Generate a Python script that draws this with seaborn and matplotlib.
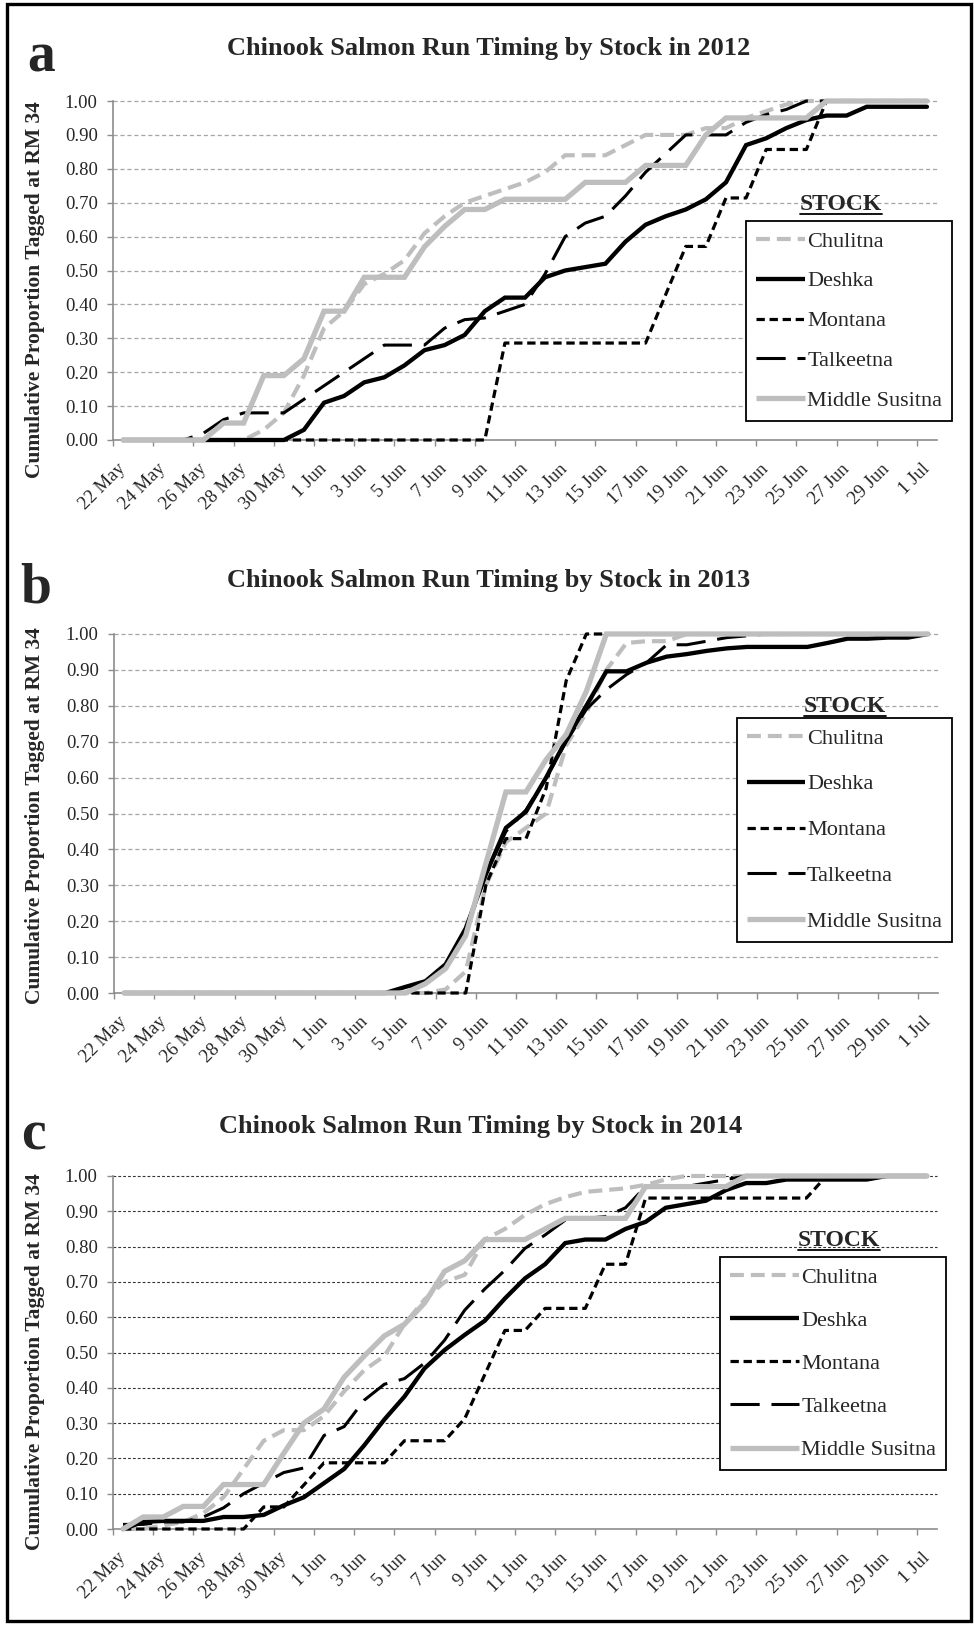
import matplotlib
matplotlib.use("Agg")
import numpy as np
import pandas as pd
import seaborn as sns
import matplotlib.pyplot as plt
from matplotlib.lines import Line2D
from matplotlib.patches import Rectangle
from matplotlib.transforms import Bbox, TransformedBbox

# ---------------- data ----------------
dates = pd.date_range("2012-05-22", "2012-07-01")
day_labels = [f"{d.day} {d.strftime('%b')}" for d in dates]
tick_labels = day_labels[::2]
stocks = ["Chulitna", "Deshka", "Montana", "Talkeetna", "Middle Susitna"]

chulitna_2012 = [0, 0, 0, 0, 0, 0, 0, 0.03, 0.08, 0.19, 0.33, 0.38, 0.46, 0.49, 0.53, 0.61, 0.66, 0.70, 0.72, 0.74,
                 0.76, 0.79, 0.84, 0.84, 0.84, 0.87, 0.90, 0.90, 0.90, 0.92, 0.92, 0.95, 0.97, 0.99, 1.0, 1.0, 1.0,
                 1.0, 1.0, 1.0, 1.0]
deshka_2012 = [0, 0, 0, 0, 0, 0, 0, 0, 0, 0.03, 0.11, 0.13, 0.17, 0.185, 0.22, 0.265, 0.28, 0.31, 0.38, 0.42,
               0.42, 0.48, 0.50, 0.51, 0.52, 0.585, 0.635, 0.66, 0.68, 0.71, 0.76, 0.87, 0.89, 0.92, 0.944, 0.957,
               0.957, 0.983, 0.983, 0.983, 0.983]
montana_2012 = [0, 0, 0, 0, 0, 0, 0, 0, 0, 0, 0, 0, 0, 0, 0, 0, 0, 0, 0, 0.286,
                0.286, 0.286, 0.286, 0.286, 0.286, 0.286, 0.286, 0.429, 0.571, 0.571, 0.714, 0.714, 0.857, 0.857,
                0.857, 1.0, 1.0, 1.0, 1.0, 1.0, 1.0]
talkeetna_2012 = [0, 0, 0, 0, 0.02, 0.06, 0.08, 0.08, 0.08, 0.12, 0.16, 0.20, 0.24, 0.28, 0.28, 0.28, 0.33, 0.355,
                  0.36, 0.38, 0.40, 0.49, 0.60, 0.64, 0.66, 0.72, 0.79, 0.845, 0.90, 0.90, 0.90, 0.937, 0.96, 0.975,
                  1.0, 1.0, 1.0, 1.0, 1.0, 1.0, 1.0]
middle_2012 = [0, 0, 0, 0, 0, 0.05, 0.05, 0.19, 0.19, 0.24, 0.38, 0.38, 0.48, 0.48, 0.48, 0.57, 0.63, 0.68, 0.68,
               0.71, 0.71, 0.71, 0.71, 0.76, 0.76, 0.76, 0.81, 0.81, 0.81, 0.90, 0.95, 0.95, 0.95, 0.95, 0.95, 1.0,
               1.0, 1.0, 1.0, 1.0, 1.0]

chulitna_2013 = [0, 0, 0, 0, 0, 0, 0, 0, 0, 0, 0, 0, 0, 0, 0, 0, 0.01, 0.06, 0.30, 0.42, 0.46, 0.50, 0.69, 0.78,
                 0.90, 0.975, 0.98, 0.98, 1.0, 1.0, 1.0, 1.0, 1.0, 1.0, 1.0, 1.0, 1.0, 1.0, 1.0, 1.0, 1.0]
deshka_2013 = [0, 0, 0, 0, 0, 0, 0, 0, 0, 0, 0, 0, 0, 0, 0.017, 0.033, 0.08, 0.18, 0.33, 0.46, 0.505, 0.60, 0.705,
               0.80, 0.896, 0.896, 0.92, 0.937, 0.944, 0.953, 0.96, 0.964, 0.964, 0.964, 0.964, 0.975, 0.987,
               0.987, 0.99, 0.99, 1.0]
montana_2013 = [0, 0, 0, 0, 0, 0, 0, 0, 0, 0, 0, 0, 0, 0, 0, 0, 0, 0, 0.30, 0.43, 0.43, 0.57, 0.87, 1.0, 1.0,
                1.0, 1.0, 1.0, 1.0, 1.0, 1.0, 1.0, 1.0, 1.0, 1.0, 1.0, 1.0, 1.0, 1.0, 1.0, 1.0]
talkeetna_2013 = [0, 0, 0, 0, 0, 0, 0, 0, 0, 0, 0, 0, 0, 0, 0.01, 0.03, 0.07, 0.17, 0.33, 0.45, 0.51, 0.60, 0.70,
                  0.79, 0.845, 0.887, 0.92, 0.97, 0.97, 0.98, 0.99, 0.995, 1.0, 1.0, 1.0, 1.0, 1.0, 1.0, 1.0, 1.0,
                  1.0]
middle_2013 = [0, 0, 0, 0, 0, 0, 0, 0, 0, 0, 0, 0, 0, 0, 0, 0.026, 0.068, 0.16, 0.36, 0.56, 0.56, 0.65, 0.72,
               0.84, 1.0, 1.0, 1.0, 1.0, 1.0, 1.0, 1.0, 1.0, 1.0, 1.0, 1.0, 1.0, 1.0, 1.0, 1.0, 1.0, 1.0]

chulitna_2014 = [0, 0, 0.01, 0.02, 0.045, 0.09, 0.17, 0.25, 0.28, 0.28, 0.32, 0.39, 0.45, 0.49, 0.58, 0.65, 0.70,
                 0.72, 0.82, 0.85, 0.89, 0.92, 0.94, 0.955, 0.96, 0.965, 0.975, 0.99, 1.0, 1.0, 1.0, 1.0, 1.0, 1.0,
                 1.0, 1.0, 1.0, 1.0, 1.0, 1.0, 1.0]
deshka_2014 = [0, 0.02, 0.023, 0.023, 0.023, 0.034, 0.034, 0.04, 0.067, 0.09, 0.13, 0.17, 0.237, 0.31, 0.375,
               0.455, 0.507, 0.55, 0.59, 0.653, 0.71, 0.75, 0.81, 0.82, 0.82, 0.85, 0.87, 0.91, 0.92, 0.93, 0.96,
               0.98, 0.98, 0.99, 0.99, 0.99, 0.99, 0.99, 1.0, 1.0, 1.0]
montana_2014 = [0, 0, 0, 0, 0, 0, 0, 0.0625, 0.0625, 0.125, 0.1875, 0.1875, 0.1875, 0.1875, 0.25, 0.25, 0.25,
                0.3125, 0.4375, 0.5625, 0.5625, 0.625, 0.625, 0.625, 0.75, 0.75, 0.9375, 0.9375, 0.9375, 0.9375,
                0.9375, 0.9375, 0.9375, 0.9375, 0.9375, 1.0, 1.0, 1.0, 1.0, 1.0, 1.0]
talkeetna_2014 = [0.013, 0.013, 0.02, 0.02, 0.034, 0.06, 0.10, 0.13, 0.16, 0.173, 0.265, 0.29, 0.365, 0.41, 0.426,
                  0.47, 0.535, 0.62, 0.68, 0.733, 0.795, 0.833, 0.875, 0.88, 0.885, 0.91, 0.97, 0.97, 0.97, 0.98,
                  0.99, 1.0, 1.0, 1.0, 1.0, 1.0, 1.0, 1.0, 1.0, 1.0, 1.0]
middle_2014 = [0, 0.034, 0.034, 0.064, 0.064, 0.126, 0.126, 0.126, 0.215, 0.30, 0.34, 0.43, 0.49, 0.547, 0.58,
               0.64, 0.73, 0.76, 0.82, 0.82, 0.82, 0.85, 0.88, 0.88, 0.88, 0.88, 0.97, 0.97, 0.97, 0.97, 0.97, 1.0,
               1.0, 1.0, 1.0, 1.0, 1.0, 1.0, 1.0, 1.0, 1.0]

series = {
    2012: [chulitna_2012, deshka_2012, montana_2012, talkeetna_2012, middle_2012],
    2013: [chulitna_2013, deshka_2013, montana_2013, talkeetna_2013, middle_2013],
    2014: [chulitna_2014, deshka_2014, montana_2014, talkeetna_2014, middle_2014],
}

# ---------------- styling ----------------
sns.set_theme(style="white")
plt.rcParams["font.family"] = ["Liberation Serif", "DejaVu Serif"]
plt.rcParams["lines.scale_dashes"] = False

GREY = "#BEBEBE"
AXGREY = "#8C8C8C"
styles = {
    "Chulitna": dict(color=GREY, lw=3.0, ls=(0, (10, 5))),
    "Deshka": dict(color="black", lw=3.1, ls="-"),
    "Montana": dict(color="black", lw=2.3, ls=(0, (6, 3.4))),
    "Talkeetna": dict(color="black", lw=2.2, ls=(0, (21, 8.5))),
    "Middle Susitna": dict(color=GREY, lw=3.8, ls="-"),
}

W, H = 974, 1625
fig = plt.figure(figsize=(W / 100, H / 100), dpi=100)


def fx(px):
    return px / W


def fy(py):
    return 1 - py / H


panels = [
    dict(year=2012, letter="a", box=(113, 101, 937, 440), title_xy=(489, 48), letter_xy=(41, 57),
         ylabel_y=290, grid=dict(color="#A6A6A6", ls=(0, (3, 2)), lw=0.9),
         leg=(746, 221), stock_xy=(841, 204), hlen=2.2, lsp=0.87),
    dict(year=2013, letter="b", box=(114, 634, 938, 993), title_xy=(489, 580), letter_xy=(36, 588),
         ylabel_y=816, grid=dict(color="#A6A6A6", ls=(0, (3, 2)), lw=0.9),
         leg=(737, 718), stock_xy=(845, 706), hlen=2.6, lsp=1.14),
    dict(year=2014, letter="c", box=(113, 1176, 937, 1529), title_xy=(481, 1126), letter_xy=(33, 1136),
         ylabel_y=1362, grid=dict(color="#333333", ls=(0, (2, 1.5)), lw=0.8),
         leg=(720, 1257), stock_xy=(839, 1240), hlen=3.1, lsp=1.02),
]

x = np.arange(len(day_labels))
stock_texts = []
for p in panels:
    x0, y0, x1, y1 = p["box"]
    ax = fig.add_axes([fx(x0), fy(y1), fx(x1) - fx(x0), fy(y0) - fy(y1)])
    ax.set_facecolor("white")
    for name, vals in zip(stocks, series[p["year"]]):
        st = styles[name]
        df = pd.DataFrame({"day": x, "value": vals})
        sns.lineplot(data=df, x="day", y="value", ax=ax, color=st["color"], linewidth=st["lw"],
                     linestyle=st["ls"], legend=False, errorbar=None)
    for ln in ax.get_lines():
        ln.set_solid_joinstyle("miter")
        ln.set_dash_capstyle("butt")
        ln.set_clip_box(TransformedBbox(Bbox([[-0.5, -0.05], [40.5, 1.05]]), ax.transData))
    ax.set_xlim(-0.5, 40.5)
    ax.set_ylim(0, 1.0)
    ax.set_xlabel("")
    ax.set_ylabel("")
    # y axis
    yt = np.round(np.arange(0, 1.01, 0.1), 2)
    ax.set_yticks(yt)
    ax.set_yticklabels([f"{v:.2f}" for v in yt], fontsize=13.5)
    ax.tick_params(axis="y", direction="out", length=4, width=1.0, color=AXGREY, pad=7, left=True)
    ax.grid(False)
    for v in yt[1:]:
        ax.axhline(v, color=p["grid"]["color"], ls=p["grid"]["ls"], lw=p["grid"]["lw"], zorder=0.5,
                   clip_on=False)
    # x axis
    ax.set_xticks(x[::2])
    ax.set_xticklabels(tick_labels, fontsize=13.5, rotation=45, ha="right", va="center",
                       rotation_mode="anchor")
    ax.tick_params(axis="x", which="major", length=0, pad=19, bottom=True)
    ax.set_xticks(np.arange(-0.5, 40.5, 2), minor=True)
    ax.tick_params(axis="x", which="minor", direction="out", length=4, width=1.0, color=AXGREY, bottom=True)
    for s in ["top", "right"]:
        ax.spines[s].set_visible(False)
    for s in ["left", "bottom"]:
        ax.spines[s].set_color(AXGREY)
        ax.spines[s].set_linewidth(1.2)
        ax.spines[s].set_zorder(0.6)

    # legend
    handles = [Line2D([], [], color=styles[n]["color"], lw=styles[n]["lw"], ls=styles[n]["ls"],
                      solid_capstyle="butt", dash_capstyle="butt") for n in stocks]
    leg = ax.legend(handles, stocks, loc="upper left", bbox_to_anchor=(fx(p["leg"][0]), fy(p["leg"][1])),
                    bbox_transform=fig.transFigure, borderaxespad=0, frameon=True, fancybox=False,
                    edgecolor="black", framealpha=1, fontsize=16, handlelength=p["hlen"],
                    handletextpad=0.1, labelspacing=p["lsp"], borderpad=0.45)
    leg.get_frame().set_linewidth(1.3)
    leg.set_zorder(5)

    # texts
    fig.text(fx(p["title_xy"][0]), fy(p["title_xy"][1]), f"Chinook Salmon Run Timing by Stock in {p['year']}",
             ha="center", va="center", fontsize=19, fontweight="bold")
    fig.text(fx(p["letter_xy"][0]), fy(p["letter_xy"][1]), p["letter"], ha="center", va="center",
             fontsize=40, fontweight="bold")
    fig.text(fx(35), fy(p["ylabel_y"]), "Cumulative Proportion Tagged at RM 34", rotation=90,
             ha="center", va="center", fontsize=15.5, fontweight="bold")
    t = fig.text(fx(p["stock_xy"][0]), fy(p["stock_xy"][1]), "STOCK", ha="center", va="center",
                 fontsize=17, fontweight="bold")
    stock_texts.append(t)

# underline the STOCK titles
fig.canvas.draw()
r = fig.canvas.get_renderer()
for t in stock_texts:
    bb = t.get_window_extent(renderer=r)
    yline = bb.y0 + 1
    fig.add_artist(Line2D([bb.x0 / W, bb.x1 / W], [yline / H, yline / H], color="black", lw=1.3,
                          transform=fig.transFigure))

# outer border
fig.add_artist(Rectangle((fx(7), fy(1621)), fx(971) - fx(7), fy(4) - fy(1621), transform=fig.transFigure,
                         fill=False, ec="black", lw=2.4))

fig.savefig("out.png", dpi=100, facecolor="white")
